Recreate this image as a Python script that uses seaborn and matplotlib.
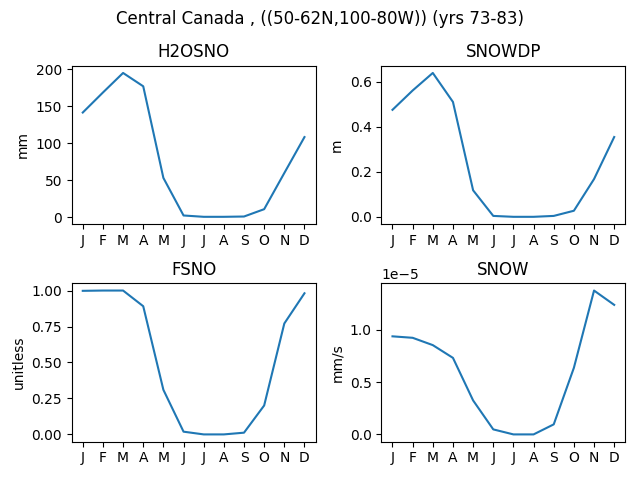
import matplotlib
matplotlib.use("Agg")
import matplotlib.pyplot as plt
import seaborn as sns
import numpy as np
import pandas as pd

months = ["J", "F", "M", "A", "M", "J", "J", "A", "S", "O", "N", "D"]
h2osno = [141.6, 168.6, 195.0, 177.0, 53.4, 2.7, 0.9, 0.9, 1.3, 11.2, 60.0, 108.5]
snowdp = [0.476, 0.562, 0.640, 0.511, 0.118, 0.004, 0.0, 0.0, 0.004, 0.027, 0.168, 0.355]
fsno = [0.998, 1.0, 1.0, 0.891, 0.310, 0.019, 0.0, 0.0, 0.012, 0.201, 0.771, 0.981]
snow = [0.938e-5, 0.924e-5, 0.854e-5, 0.732e-5, 0.325e-5, 0.048e-5, 0.0, 0.0, 0.096e-5, 0.637e-5, 1.376e-5, 1.239e-5]

panels = [("H2OSNO", "mm", h2osno), ("SNOWDP", "m", snowdp),
          ("FSNO", "unitless", fsno), ("SNOW", "mm/s", snow)]

fig, axes = plt.subplots(2, 2, figsize=(6.4, 4.8), dpi=100)
x = np.arange(len(months))
for ax, (name, unit, vals) in zip(axes.flat, panels):
    df = pd.DataFrame({"month": x, "value": vals})
    sns.lineplot(data=df, x="month", y="value", ax=ax, color="#1f77b4")
    ax.set_title(name)
    ax.set_ylabel(unit)
    ax.set_xlabel("")
    ax.set_xticks(x)
    ax.set_xticklabels(months)

fig.suptitle("Central Canada , ((50-62N,100-80W)) (yrs 73-83)")
fig.subplots_adjust(left=0.112, right=0.977, top=0.863, bottom=0.080,
                    hspace=0.375, wspace=0.27)
fig.savefig("out.png", dpi=100)
